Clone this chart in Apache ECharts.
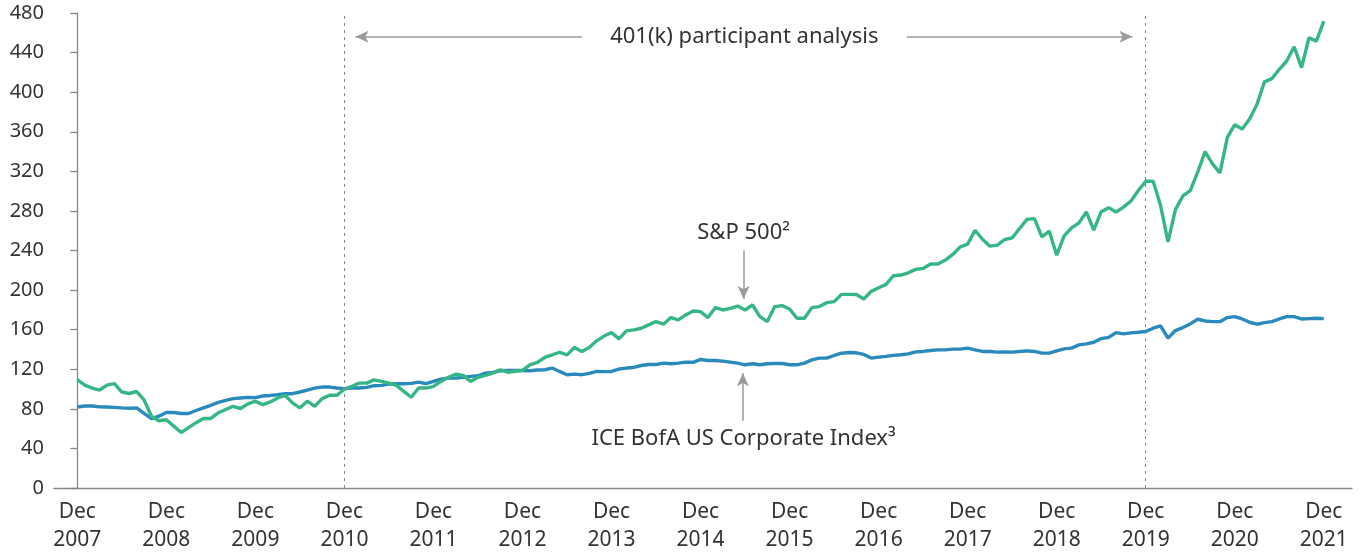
<!DOCTYPE html>
<html>
<head>
<meta charset="utf-8">
<script src="https://cdn.jsdelivr.net/npm/echarts@6/dist/echarts.min.js"></script>
<style>
  html, body { margin: 0; padding: 0; background: #fff; }
  #chart { width: 1361px; height: 554px; }
</style>
</head>
<body>
<div id="chart"></div>
<script>
// monthly index values, Dec 2007 .. Dec 2021 (Dec 2010 = 100)
const years = [2007, 2008, 2009, 2010, 2011, 2012, 2013, 2014, 2015, 2016, 2017, 2018, 2019, 2020, 2021]

const sp500 = [
  109.4, 104, 101, 99, 104, 105.5, 97, 95.5, 97.5, 89, 72.5, 68,
  69, 62.5, 56, 61, 66, 70.3, 70.3, 76, 79.3, 82.6, 80.3, 85,
  87.7, 84.3, 87, 91, 93.7, 86, 81, 87.7, 82.6, 90.3, 93.7, 93.7,
  100, 102.7, 106, 106, 109.3, 107.7, 106, 103.7, 97.7, 91.7, 101, 101,
  102.7, 107.7, 111.8, 115, 113.8, 107.7, 111.8, 113.8, 116, 119.5, 117, 117.8,
  118.8, 124.5, 126.9, 131.9, 134.5, 137.2, 134.5, 142, 137.9, 142, 148.7, 153.5,
  157.2, 150.7, 158.8, 159.8, 161.4, 164.8, 168.2, 165.5, 172.2, 169.9, 174.9, 178.9,
  178.2, 172.2, 182.3, 179.9, 181.6, 183.9, 179.9, 184.9, 173.2, 168.2, 183.3, 184.3,
  180.9, 171.5, 171.5, 182.3, 183.3, 187.3, 188.3, 195.7, 195.7, 195.5, 191, 198.7,
  202.4, 205.8, 214.5, 215.2, 217.5, 220.9, 221.9, 226.3, 226.3, 230.3, 236, 243.7,
  246.4, 260.5, 251.4, 244.4, 245.4, 251.1, 252.8, 262.2, 271.5, 272.2, 253.8, 259.5,
  235.3, 254.8, 262.8, 267.9, 278.9, 260.5, 279.2, 283.3, 278.9, 283.9, 289.9, 300.6,
  310, 310, 285.5, 248.8, 281.3, 295.1, 300.6, 319.1, 339.9, 327.5, 318.4, 354.3,
  367.1, 362.7, 372.8, 387.9, 410.4, 413.7, 423.1, 431.5, 445.9, 424.8, 455, 451.6,
  471.8
]

const corpIndex = [
  81.9, 82.9, 82.9, 82, 81.8, 81.5, 81, 80.6, 81, 75.5, 70, 72.6,
  76.3, 76.3, 75.3, 75.3, 78.3, 81, 83.6, 86.6, 88.6, 90.3, 91, 91.6,
  91.3, 93, 93.5, 94.3, 95.3, 95.3, 97, 99, 101, 102, 102, 101,
  100.4, 101, 101, 101.7, 103.4, 103.7, 105, 105.4, 105.4, 105.7, 107, 105.4,
  107.7, 110, 111, 111, 111.8, 112.8, 113.4, 116, 116.8, 118.5, 118.8, 118.8,
  118.8, 118.5, 119.2, 119.5, 121.2, 117.8, 114.5, 115.1, 114.5, 115.8, 117.8, 117.6,
  117.8, 120.2, 121.2, 121.8, 123.8, 124.8, 124.8, 126.2, 125.5, 126.2, 127.2, 127,
  129.9, 128.9, 128.9, 128.2, 127.2, 126.2, 124.5, 125.5, 124.5, 125.5, 125.8, 125.8,
  124.5, 124.5, 126.2, 129.5, 131.2, 131.2, 133.9, 136.2, 136.9, 136.6, 135, 131.3,
  132.3, 133, 134, 134.6, 135.6, 137.6, 138, 139, 139.6, 139.6, 140.3, 140.3,
  141.3, 139.6, 138, 138, 137.3, 137.6, 137.3, 138, 138.6, 138, 136.3, 136.3,
  138.6, 140.6, 141.3, 144.6, 145.6, 147.3, 151, 152.2, 157, 155.8, 156.8, 157.4,
  158.1, 161.5, 163.8, 151.4, 159.1, 162.1, 165.8, 170.5, 168.8, 168.1, 168.1, 172.2,
  173.2, 170.8, 167.5, 165.5, 167.1, 168.1, 170.8, 173.2, 173.2, 170.8, 171.2, 171.5,
  171.2
]

// period marked as the 401(k) analysis window (month index from Dec 2007)
const analysisStart = 36
const analysisEnd = 144

const FONT = '"Noto Sans", sans-serif'
const TEXT = '#333333'
const GREY = '#9a9a9a'

const chart = echarts.init(document.getElementById('chart'))

const decTicks = years.map((y, i) => i * 12)

const option = {
  animation: false,
  grid: { left: 54, right: 9, top: 13, bottom: 64 },
  xAxis: {
    type: 'value',
    min: -3.14,
    max: 171.8,
    axisLine: { lineStyle: { color: '#888', width: 1.3 } },
    axisTick: { show: false },
    splitLine: { show: false },
    axisLabel: {
      customValues: decTicks,
      formatter: v => 'Dec\n' + years[Math.round(v / 12)],
      color: TEXT,
      fontFamily: FONT,
      fontSize: 21,
      lineHeight: 28,
      margin: 10
    }
  },
  yAxis: {
    type: 'value',
    min: 0,
    max: 480,
    interval: 40,
    axisLine: { show: true, lineStyle: { color: '#888', width: 1.3 } },
    axisTick: { show: true, length: 7, lineStyle: { color: '#888', width: 1.3 } },
    splitLine: { show: false },
    axisLabel: { color: TEXT, fontFamily: FONT, fontSize: 20, margin: 10 }
  },
  series: [
    {
      name: 'ICE BofA US Corporate Index',
      type: 'line',
      data: corpIndex.map((v, i) => [i, v]),
      showSymbol: false,
      lineStyle: { color: '#2a8abb', width: 3.4 },
      z: 3,
      markLine: {
        silent: true,
        symbol: ['none', 'none'],
        label: { show: false },
        lineStyle: { color: '#888', width: 1, type: [3, 4] },
        data: [{ xAxis: analysisStart }, { xAxis: analysisEnd }]
      }
    },
    {
      name: 'S&P 500',
      type: 'line',
      data: sp500.map((v, i) => [i, v]),
      showSymbol: false,
      lineStyle: { color: '#36b685', width: 3.4 },
      z: 4,
      markLine: {
        silent: true,
        symbol: ['none', 'arrow'],
        symbolSize: [9, 13],
        label: { show: false },
        lineStyle: { color: GREY, width: 1.5, type: 'solid' },
        data: [
          [{ coord: [68, 456] }, { coord: [37.5, 456] }],
          [{ coord: [111.8, 456] }, { coord: [142.2, 456] }],
          [{ coord: [89.8, 240] }, { coord: [89.8, 191] }],
          [{ coord: [89.7, 68] }, { coord: [89.7, 116] }]
        ]
      },
      markPoint: {
        silent: true,
        symbol: 'circle',
        symbolSize: 0,
        label: {
          show: true,
          position: 'inside',
          color: TEXT,
          fontFamily: FONT,
          fontSize: 22
        },
        data: [
          { coord: [89.9, 456], label: { formatter: '401(k) participant analysis' } },
          { coord: [89.8, 258], label: { formatter: 'S&P 500²' } },
          { coord: [89.8, 50], label: { formatter: 'ICE BofA US Corporate Index³' } }
        ]
      }
    }
  ]
}

chart.setOption(option)
window.addEventListener('resize', () => chart.resize())
</script>
</body>
</html>
